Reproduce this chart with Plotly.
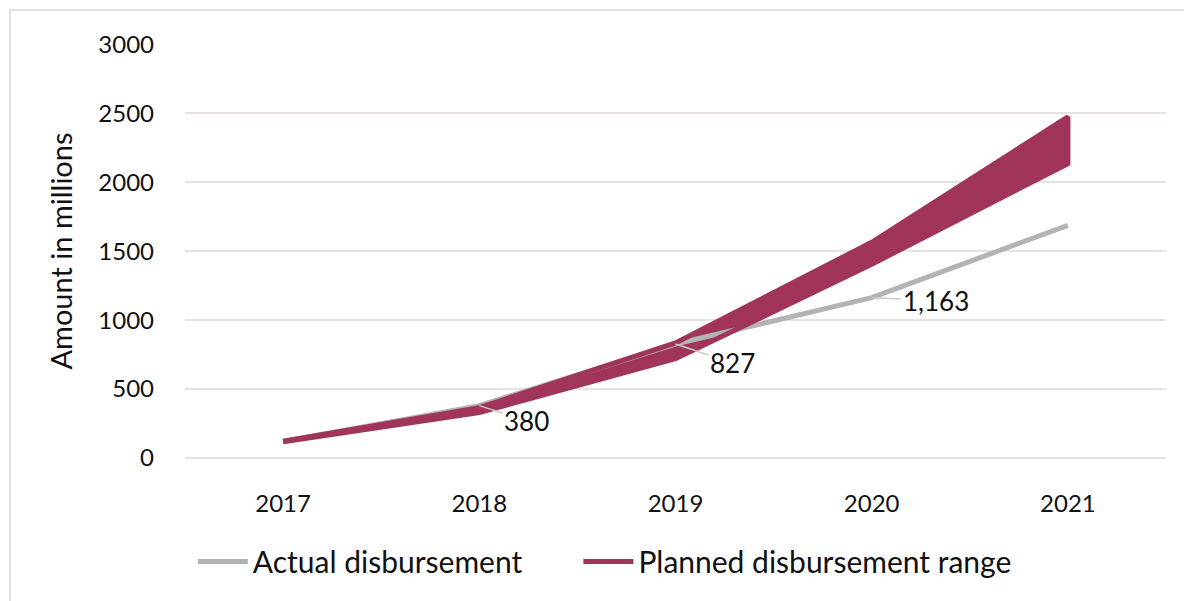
import plotly.graph_objects as go

# ---- data ----
years = ["2017", "2018", "2019", "2020", "2021"]
actual = [120, 380, 827, 1163, 1688]
planned_high = [122, 365, 835, 1565, 2475]
planned_low = [118, 330, 720, 1405, 2135]
label_years = ["2018", "2019", "2020"]
label_values = [380, 827, 1163]
label_text = ["380", "827", "1,163"]
y_ticks = [0, 500, 1000, 1500, 2000, 2500, 3000]

MAROON = "#A0345A"
GREY = "#B3B3B3"
FONT = "Lato"

fig = go.Figure()

# band: closed polygon (upper forward, lower back)
band_x = years + years[::-1]
band_y = planned_high + planned_low[::-1]

fig.add_trace(go.Scatter(
    x=band_x, y=band_y, mode="lines", fill="toself",
    fillcolor=MAROON, line=dict(width=0, color=MAROON),
    showlegend=False, hoverinfo="skip",
))

fig.add_trace(go.Scatter(
    x=years, y=actual, mode="lines", name="Actual disbursement",
    line=dict(color=GREY, width=5), legend="legend",
))

fig.add_trace(go.Scatter(
    x=band_x, y=band_y, mode="lines", name="Planned disbursement range",
    line=dict(color=MAROON, width=5), legend="legend2",
))

# data labels with leader lines (x as category index)
offsets = [(47, 15), (57, 19), (64, 3)]
for yr, val, txt, (ax, ay) in zip(label_years, label_values, label_text, offsets):
    fig.add_annotation(
        x=years.index(yr), y=val, text=txt, showarrow=True, arrowhead=0,
        arrowwidth=1.5, arrowcolor="#CFC8C0", ax=ax, ay=ay,
        font=dict(family=FONT, size=26, color="#111111"),
    )

# outer frame
fig.add_shape(
    type="rect", xref="paper", yref="paper",
    x0=-0.1784, x1=1.04, y0=-0.45, y1=1.082,
    line=dict(color="#E4E0DC", width=2), fillcolor="rgba(0,0,0,0)",
)

legend_style = dict(
    orientation="h", xanchor="left", y=-0.25, yanchor="middle",
    font=dict(family=FONT, size=30, color="#111111"),
    itemwidth=50, bgcolor="rgba(0,0,0,0)",
)

# page body adds an 8px margin, margins below compensate for it
fig.update_layout(
    width=1192, height=601,
    margin=dict(l=177, r=34, t=36, b=151),
    paper_bgcolor="white", plot_bgcolor="white",
    font=dict(family=FONT, size=24, color="#111111"),
    showlegend=True,
    legend=dict(x=0.008, **legend_style),
    legend2=dict(x=0.401, **legend_style),
)

fig.update_xaxes(
    type="category", range=[-0.5, 4.5], showgrid=False, zeroline=False,
    showline=False, ticks="", tickfont=dict(family=FONT, size=24),
    ticklabelstandoff=29,
)
fig.update_yaxes(
    range=[0, 3003], tickvals=y_ticks, showgrid=True,
    gridcolor="#E6E2DE", gridwidth=2, zeroline=True, zerolinecolor="#E6E2DE",
    zerolinewidth=2, showline=False, ticks="",
    tickfont=dict(family=FONT, size=24), ticklabelstandoff=30,
    title=dict(text="Amount in millions", font=dict(family=FONT, size=29), standoff=17),
)

fig.write_html("out.html")
